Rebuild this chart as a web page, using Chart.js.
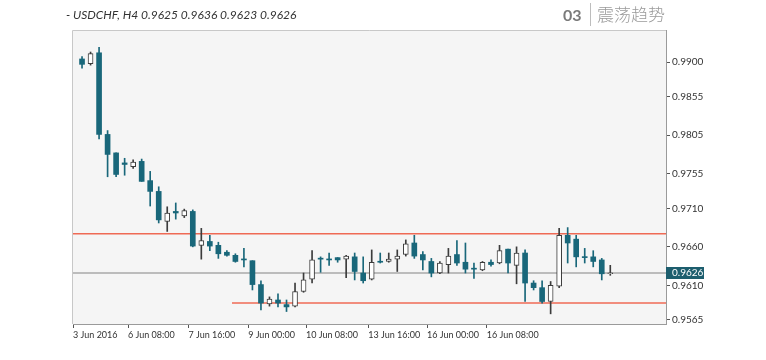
<!DOCTYPE html>
<html>
<head>
<meta charset="utf-8">
<script src="https://cdn.jsdelivr.net/npm/chart.js@4/dist/chart.umd.min.js"></script>
<style>
  html, body { margin: 0; padding: 0; background: #fff; }
  #wrap { width: 766px; height: 360px; }
</style>
</head>
<body>
<div id="wrap"><canvas id="chart" width="766" height="360"></canvas></div>
<script>
// USDCHF H4 candles (index 0 = first bar)
const opens  = [0.9904, 0.9898, 0.9912, 0.9806, 0.9782, 0.9769, 0.9764, 0.9771, 0.9746, 0.9732,
                0.9693, 0.9706, 0.9700, 0.9706, 0.9662, 0.9667, 0.9662, 0.9653, 0.9649, 0.9644,
                0.9642, 0.9611, 0.9586, 0.9591, 0.9585, 0.9583, 0.9602, 0.9618, 0.9645, 0.9644,
                0.9646, 0.9644, 0.9647, 0.9626, 0.9618, 0.9641, 0.9641, 0.9644, 0.9650, 0.9665,
                0.9650, 0.9641, 0.9626, 0.9637, 0.9650, 0.9640, 0.9632, 0.9630, 0.9640, 0.9639,
                0.9657, 0.9636, 0.9652, 0.9613, 0.9607, 0.9589, 0.9609, 0.9675, 0.9670, 0.9647,
                0.9647, 0.9643, 0.9625];
const highs  = [0.9907, 0.9913, 0.9919, 0.9811, 0.9782, 0.9775, 0.9773, 0.9774, 0.9758, 0.9738,
                0.9712, 0.9717, 0.9709, 0.9708, 0.9684, 0.9675, 0.9666, 0.9655, 0.9651, 0.9658,
                0.9642, 0.9616, 0.9595, 0.9599, 0.9591, 0.9613, 0.9626, 0.9655, 0.9647, 0.9652,
                0.9646, 0.9649, 0.9652, 0.9647, 0.9656, 0.9652, 0.9652, 0.9656, 0.9669, 0.9675,
                0.9654, 0.9645, 0.9641, 0.9658, 0.9668, 0.9665, 0.9639, 0.9641, 0.9643, 0.9662,
                0.9657, 0.9660, 0.9656, 0.9616, 0.9616, 0.9615, 0.9684, 0.9685, 0.9675, 0.9658,
                0.9655, 0.9645, 0.9636];
const lows   = [0.9892, 0.9896, 0.9800, 0.9751, 0.9751, 0.9753, 0.9762, 0.9745, 0.9713, 0.9691,
                0.9680, 0.9696, 0.9698, 0.9660, 0.9644, 0.9655, 0.9645, 0.9648, 0.9640, 0.9634,
                0.9604, 0.9578, 0.9583, 0.9582, 0.9576, 0.9582, 0.9601, 0.9613, 0.9627, 0.9636,
                0.9640, 0.9620, 0.9617, 0.9613, 0.9617, 0.9639, 0.9640, 0.9628, 0.9648, 0.9645,
                0.9630, 0.9621, 0.9625, 0.9626, 0.9636, 0.9626, 0.9619, 0.9629, 0.9635, 0.9638,
                0.9626, 0.9612, 0.9589, 0.9604, 0.9587, 0.9573, 0.9607, 0.9639, 0.9634, 0.9639,
                0.9634, 0.9617, 0.9623];
const closes = [0.9897, 0.9911, 0.9806, 0.9780, 0.9754, 0.9767, 0.9770, 0.9745, 0.9732, 0.9695,
                0.9704, 0.9704, 0.9707, 0.9661, 0.9668, 0.9661, 0.9651, 0.9649, 0.9641, 0.9643,
                0.9611, 0.9587, 0.9592, 0.9587, 0.9582, 0.9602, 0.9617, 0.9643, 0.9644, 0.9643,
                0.9643, 0.9648, 0.9628, 0.9616, 0.9640, 0.9640, 0.9644, 0.9648, 0.9664, 0.9648,
                0.9643, 0.9626, 0.9639, 0.9648, 0.9639, 0.9631, 0.9631, 0.9640, 0.9637, 0.9655,
                0.9639, 0.9652, 0.9613, 0.9607, 0.9589, 0.9610, 0.9675, 0.9665, 0.9647, 0.9646,
                0.9641, 0.9625, 0.9626];

// x axis labels and where they sit (bar index)
const tickLabels = ['3 Jun 2016', '6 Jun 08:00', '7 Jun 16:00', '9 Jun 00:00',
                    '10 Jun 08:00', '13 Jun 16:00', '16 Jun 00:00', '16 Jun 08:00'];
const tickIdx = [-1.05, 5.4, 12.5, 19.5, 26.3, 33.6, 40.5, 47.5];
const yTicks = [0.9565, 0.9610, 0.9660, 0.9710, 0.9755, 0.9805, 0.9855, 0.9900];

// horizontal levels
const resistance = 0.9677;
const support = 0.9587;
const supportFrom = 18;
const lastPrice = 0.9626;

const TEAL = '#19677a';
const DARK = '#3c3c3c';
const xMin = -1.06, xMax = 68.54;

const isBull = i => closes[i] > opens[i];

const bodies = opens.map((o, i) => ({ x: i, y: [o, closes[i]] }));
const wicks = lows.map((l, i) => ({ x: i, y: [l, highs[i]] }));

const chromePlugin = {
  id: 'chrome',
  beforeDatasetsDraw(chart) {
    const { ctx, chartArea: a } = chart;
    ctx.save();
    ctx.fillStyle = '#f5f5f5';
    ctx.fillRect(a.left, a.top, a.right - a.left, a.bottom - a.top);
    ctx.restore();
  },
  afterDraw(chart) {
    const { ctx, chartArea: a } = chart;
    ctx.save();
    // frame top + left
    ctx.strokeStyle = '#c8c8c8';
    ctx.lineWidth = 1;
    ctx.beginPath();
    ctx.moveTo(a.left - 0.5, a.bottom);
    ctx.lineTo(a.left - 0.5, a.top + 0.5);
    ctx.lineTo(a.right, a.top + 0.5);
    ctx.stroke();

    // header
    const n = opens.length - 1;
    const ohlc = [opens[n], highs[n], lows[n], closes[n]].map(v => v.toFixed(4)).join(' ');
    ctx.fillStyle = '#333';
    ctx.font = 'italic 12px Lato';
    ctx.textBaseline = 'middle';
    ctx.textAlign = 'left';
    ctx.fillText('- USDCHF, H4 ' + ohlc, 66, 15);

    // top-right title
    ctx.fillStyle = '#7a7a7a';
    ctx.font = 'bold 16px Lato';
    ctx.fillText('03', 563, 16);
    ctx.strokeStyle = '#bdbdbd';
    ctx.beginPath();
    ctx.moveTo(590.5, 3);
    ctx.lineTo(590.5, 26);
    ctx.stroke();
    ctx.fillStyle = '#9a9a9a';
    ctx.font = '300 17px "Noto Sans CJK SC"';
    ctx.fillText('震荡趋势', 597, 15);

    // last price tag
    const y = chart.scales.y.getPixelForValue(lastPrice);
    ctx.fillStyle = '#1d5e6e';
    ctx.fillRect(a.right, Math.round(y) - 6, 38, 12);
    ctx.fillStyle = '#fff';
    ctx.font = '10px Lato';
    ctx.fillText(lastPrice.toFixed(4), a.right + 6, y);
    ctx.restore();
  }
};

new Chart(document.getElementById('chart'), {
  data: {
    datasets: [
      {
        type: 'bar', label: 'body', data: bodies, order: 1, grouped: false,
        barThickness: 5, minBarLength: 1, borderSkipped: false,
        backgroundColor: bodies.map((_, i) => isBull(i) ? '#ffffff' : TEAL),
        borderColor: bodies.map((_, i) => isBull(i) ? DARK : TEAL),
        borderWidth: bodies.map((_, i) => isBull(i) ? 1 : 0)
      },
      {
        type: 'bar', label: 'wick', data: wicks, order: 2, grouped: false,
        barThickness: 1, borderWidth: 0,
        backgroundColor: wicks.map((_, i) => isBull(i) ? DARK : TEAL)
      },
      {
        type: 'line', label: 'resistance', order: 3,
        data: [{ x: xMin, y: resistance }, { x: xMax, y: resistance }],
        borderColor: '#ef6a55', borderWidth: 1.5, pointRadius: 0
      },
      {
        type: 'line', label: 'support', order: 3,
        data: [{ x: supportFrom - 0.4, y: support }, { x: xMax, y: support }],
        borderColor: '#ef6a55', borderWidth: 1.5, pointRadius: 0
      },
      {
        type: 'line', label: 'last', order: 3,
        data: [{ x: xMin, y: lastPrice }, { x: xMax, y: lastPrice }],
        borderColor: '#a8a8a8', borderWidth: 1.5, pointRadius: 0
      }
    ]
  },
  options: {
    responsive: false,
    animation: false,
    devicePixelRatio: 1,
    layout: { padding: { left: 73, top: 30, right: 0, bottom: 0 } },
    plugins: { legend: { display: false }, tooltip: { enabled: false } },
    scales: {
      x: {
        type: 'linear', min: xMin, max: xMax, offset: false,
        afterBuildTicks: s => { s.ticks = tickIdx.map(v => ({ value: v })); },
        afterFit: s => { s.height = 36; },
        grid: { drawOnChartArea: false, tickLength: 4, color: '#555', offset: false },
        border: { color: '#9a9a9a' },
        ticks: {
          autoSkip: false, maxRotation: 0, align: 'start', padding: 2,
          color: '#333', font: { family: 'Lato', size: 9 },
          callback: (v, i) => tickLabels[i]
        }
      },
      y: {
        type: 'linear', position: 'right', min: 0.95598, max: 0.99416,
        afterBuildTicks: s => { s.ticks = yTicks.map(v => ({ value: v })); },
        afterFit: s => { s.width = 100; },
        grid: { drawOnChartArea: false, tickLength: 4, color: '#555' },
        border: { color: '#9a9a9a' },
        ticks: {
          padding: 2, color: '#333', font: { family: 'Lato', size: 10 },
          callback: v => v.toFixed(4)
        }
      }
    }
  },
  plugins: [chromePlugin]
});
</script>
</body>
</html>
